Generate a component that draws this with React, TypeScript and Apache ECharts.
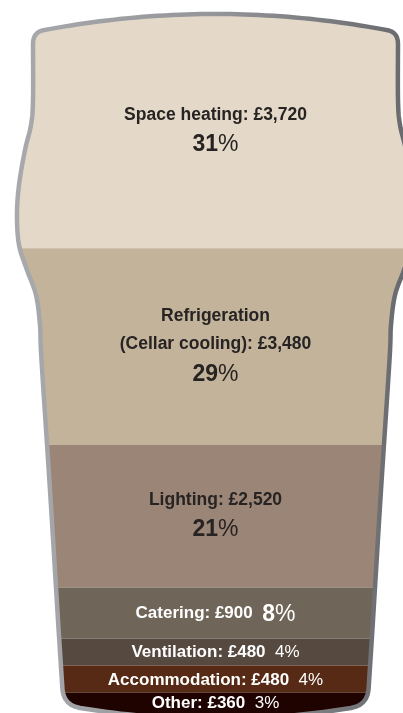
import React, { useEffect, useRef } from 'react';
import * as echarts from 'echarts';

// ---- data (top of glass to bottom) ----
const categories = ['Space heating', 'Refrigeration\n(Cellar cooling)', 'Lighting', 'Catering', 'Ventilation', 'Accommodation', 'Other'];
const costs = [3720, 3480, 2520, 900, 480, 480, 360];
const percents = [31, 29, 21, 8, 4, 4, 3];

// ---- styles ----
const layerColors = ['#e4d9c8', '#c4b39b', '#9b8577', '#6f6558', '#564940', '#562a14', '#1f0300'];
const textColors = ['#262322', '#262322', '#262322', '#ffffff', '#ffffff', '#ffffff', '#ffffff'];
const FF = '"Liberation Sans", Arial, Helvetica, sans-serif';

const W = 403;
const H = 713;
const CX = 215.5;

type P = [number, number];

function quad(p0: P, c: P, p1: P, t0: number, t1: number, n: number): P[] {
  const out: P[] = [];
  for (let k = 0; k <= n; k++) {
    const t = t0 + ((t1 - t0) * k) / n;
    const a = (1 - t) * (1 - t), b = 2 * t * (1 - t), d = t * t;
    out.push([a * p0[0] + b * c[0] + d * p1[0], a * p0[1] + b * c[1] + d * p1[1]]);
  }
  return out;
}

function catmull(pts: P[], n: number): P[] {
  const out: P[] = [];
  for (let i = 0; i < pts.length - 1; i++) {
    const p0 = pts[Math.max(0, i - 1)], p1 = pts[i], p2 = pts[i + 1], p3 = pts[Math.min(pts.length - 1, i + 2)];
    for (let k = 0; k < n; k++) {
      const t = k / n, t2 = t * t, t3 = t2 * t;
      const f = (a: number, b: number, c: number, d: number) =>
        0.5 * (2 * b + (-a + c) * t + (2 * a - 5 * b + 4 * c - d) * t2 + (-a + 3 * b - 3 * c + d) * t3);
      out.push([f(p0[0], p1[0], p2[0], p3[0]), f(p0[1], p1[1], p2[1], p3[1])]);
    }
  }
  out.push(pts[pts.length - 1]);
  return out;
}

function buildGlass(): P[] {
  const half: P[] = [];
  // rim: centre to left
  half.push(...quad([42, 30.5], [CX, -2.5], [2 * CX - 42, 30.5], 0.5, 0, 24));
  // top-left corner
  half.push(...quad([42, 30.5], [33, 33], [33, 44], 0, 1, 6).slice(1));
  // left side
  const side: P[] = [[33, 44], [33, 100], [31, 125], [25, 150], [19, 185], [17, 215], [19, 245], [27, 270], [36, 295], [40, 325], [41.5, 360], [50, 490], [58, 620], [62.5, 690]];
  half.push(...catmull(side, 8).slice(1));
  // bottom-left corner
  half.push(...quad([62.5, 690], [64, 705], [80, 708], 0, 1, 6).slice(1));
  // bottom: left to centre
  half.push(...quad([80, 708], [CX, 730], [2 * CX - 80, 708], 0, 0.5, 20).slice(1));
  const mirrored: P[] = half.slice(0, -1).reverse().map(([x, y]) => [2 * CX - x, y] as P);
  return half.concat(mirrored.slice(0, -1));
}

function clipY(poly: P[], yv: number, keepBelow: boolean): P[] {
  const inside = (p: P) => (keepBelow ? p[1] <= yv : p[1] >= yv);
  const out: P[] = [];
  for (let i = 0; i < poly.length; i++) {
    const a = poly[i], b = poly[(i + 1) % poly.length];
    const ia = inside(a), ib = inside(b);
    if (ia) out.push(a);
    if (ia !== ib) {
      const t = (yv - a[1]) / (b[1] - a[1]);
      out.push([a[0] + t * (b[0] - a[0]), yv]);
    }
  }
  return out;
}

const fmt = (v: number) => '£' + v.toLocaleString('en-GB');

export default function App() {
  const ref = useRef<HTMLDivElement>(null);
  useEffect(() => {
    if (!ref.current) return;
    const chart = echarts.init(ref.current, undefined, { renderer: 'svg' });
    const glass = buildGlass();
    const total = costs.reduce((a, b) => a + b, 0);
    const data = costs.map((c, i) => {
      const start = costs.slice(i + 1).reduce((a, b) => a + b, 0);
      return [0.5, start, start + c, i];
    });

    const renderItem = (params: any, api: any) => {
      const i = api.value(3);
      const s = api.value(1), e = api.value(2);
      let yBot = api.coord([0.5, s])[1];
      let yTop = api.coord([0.5, e])[1];
      if (e >= total) yTop = -100;
      if (s <= 0) yBot = 1000;
      let poly = clipY(glass, yTop, false);
      poly = clipY(poly, yBot, true);
      const ys = poly.map((p) => p[1]);
      const minY = Math.min(...ys), maxY = Math.max(...ys);
      const cy = (minY + maxY) / 2;
      const bandH = maxY - minY;
      const tc = textColors[i];
      const big = bandH > 100;
      const nameSize = big ? 17.5 : 17;
      const rich: any = {
        n: { fontFamily: FF, fontSize: nameSize, fontWeight: 'bold', fill: tc, lineHeight: 28 },
        g: { fontFamily: FF, fontSize: 17, fontWeight: 'bold', fill: tc, lineHeight: 18 },
        pb: { fontFamily: FF, fontSize: 23, fontWeight: 'bold', fill: tc, lineHeight: 31 },
        pp: { fontFamily: FF, fontSize: 23, fontWeight: 'normal', fill: tc, lineHeight: 31 },
        ps: { fontFamily: FF, fontSize: 17, fontWeight: 'normal', fill: tc, lineHeight: 18 },
      };
      const nameLines = categories[i].split('\n');
      let text: string;
      if (big) {
        const lines = nameLines.map((l, k) => (k === nameLines.length - 1 ? `{n|${l}: ${fmt(costs[i])}}` : `{n|${l}}`));
        text = lines.join('\n') + `\n{pb|${percents[i]}}{pp|%}`;
      } else if (bandH > 40) {
        text = `{g|${nameLines.join(' ')}: ${fmt(costs[i])}  }{pb|${percents[i]}}{pp|%}`;
      } else {
        text = `{g|${nameLines.join(' ')}: ${fmt(costs[i])}  }{ps|${percents[i]}%}`;
      }
      const ty = Math.min(cy + (big ? -2 : 0), H - 11);
      return {
        type: 'group',
        children: [
          { type: 'polygon', shape: { points: poly }, style: { fill: layerColors[i] } },
          {
            type: 'text',
            x: CX,
            y: ty,
            style: { text, rich, align: 'center', verticalAlign: 'middle', fill: tc, fontFamily: FF },
          },
        ],
      };
    };

    chart.setOption({
      animation: false,
      grid: { left: 0, top: 38, width: W, height: 682 },
      xAxis: { type: 'value', min: 0, max: 1, show: false },
      yAxis: { type: 'value', min: 0, max: total, show: false },
      series: [
        {
          type: 'custom',
          coordinateSystem: 'cartesian2d',
          clip: false,
          encode: { x: 0, y: [1, 2] },
          data,
          renderItem,
        },
      ],
      graphic: [
        {
          type: 'polygon',
          z: 100,
          shape: { points: glass },
          style: {
            fill: 'transparent',
            lineWidth: 4.5,
            lineJoin: 'round',
            stroke: new echarts.graphic.LinearGradient(0, 0, 1, 0, [
              { offset: 0, color: '#a8a9ad' },
              { offset: 0.5, color: '#949599' },
              { offset: 1, color: '#67686c' },
            ]),
          },
        },
      ],
    });
    return () => chart.dispose();
  }, []);
  return <div ref={ref} style={{ position: 'fixed', left: 0, top: 0, width: W, height: H }} />;
}
